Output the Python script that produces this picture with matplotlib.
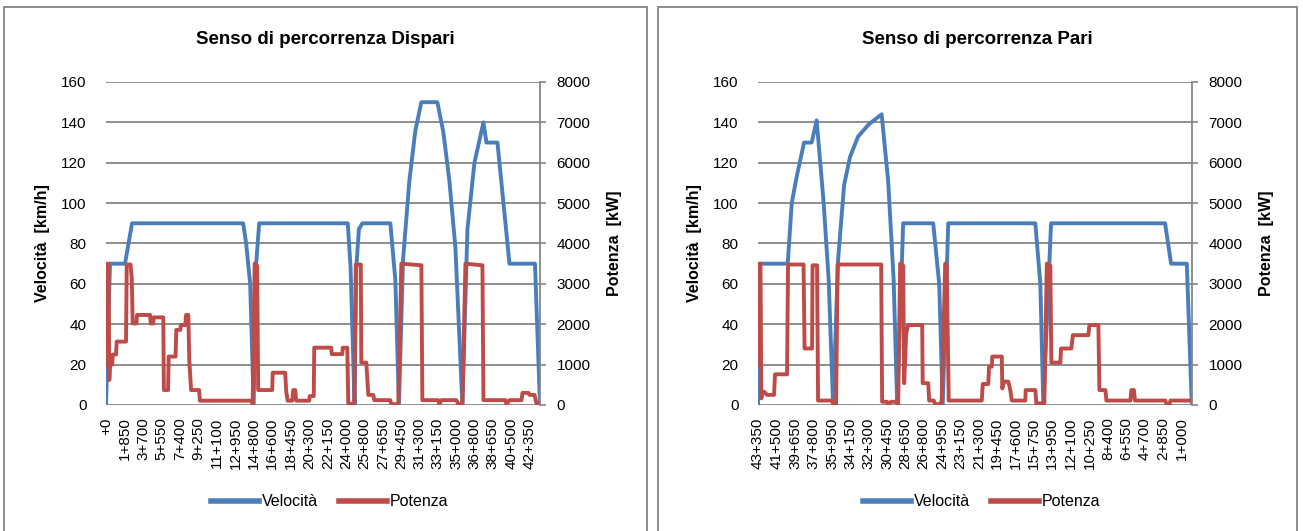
import matplotlib
matplotlib.use("Agg")
import matplotlib.pyplot as plt
from matplotlib.patches import Rectangle
from matplotlib.lines import Line2D

plt.rcParams["font.family"] = ["Liberation Sans", "DejaVu Sans"]

# --- Senso Dispari (distanza percorsa in km) ---
dist_v_dispari = [0.0, 0.4, 1.9, 2.6, 13.7, 14.0, 14.4, 14.75, 15.0, 15.3,
                  24.15, 24.43, 24.66, 24.83, 25.0, 25.26, 25.6,
                  28.4, 28.9, 29.26,
                  29.67, 30.3, 30.9, 31.5, 33.1, 33.7, 34.3, 34.9, 35.6,
                  36.1, 36.8, 37.7, 38.0, 39.1, 39.8, 40.3, 42.85, 43.35]
vel_dispari = [0, 70, 70, 90, 90, 80, 60, 0, 70, 90,
               90, 68, 29, 0, 68, 87, 90,
               90, 62, 0,
               72, 111, 136, 150, 150, 135, 111, 78, 0,
               87, 120, 140, 130, 130, 95, 70, 70, 0]

dist_p_dispari = [0.0, 0.12, 0.25, 0.33, 0.4, 0.62, 0.67, 1.0, 1.07, 2.0,
                  2.07, 2.45, 2.57, 2.67, 3.05, 3.1, 4.4, 4.47, 4.72, 4.76,
                  5.72, 5.78, 6.2, 6.26, 6.95, 7.02, 7.42, 7.48, 7.92, 8.0,
                  8.22, 8.32, 8.5, 9.3, 9.38, 14.5, 14.65, 14.85, 15.1, 15.2,
                  16.6, 16.65, 17.9, 18.0, 18.15, 18.6, 18.7, 18.9, 19.0, 20.3,
                  20.35, 20.75, 20.8, 22.5, 22.55, 23.6, 23.65, 24.1, 24.2, 24.8,
                  24.95, 25.45, 25.5, 26.0, 26.2, 26.7, 26.8, 28.4, 28.5, 29.2,
                  29.5, 31.5, 31.6, 33.2, 33.3, 33.5, 35.0, 35.2, 35.6, 35.9,
                  37.6, 37.7, 39.9, 40.0, 40.3, 41.5, 41.6, 42.2, 42.3, 42.8,
                  43.0, 43.35]
pot_dispari = [1000, 3500, 3500, 620, 1000, 1000, 1250, 1250, 1570, 1570,
               3480, 3480, 3150, 2020, 2020, 2230, 2230, 2020, 2020, 2170,
               2170, 370, 370, 1200, 1200, 1860, 1860, 1980, 1980, 2230,
               2230, 1100, 370, 370, 107, 107, 30, 3500, 3450, 370,
               370, 800, 800, 330, 107, 107, 370, 370, 107, 107,
               220, 220, 1420, 1420, 1260, 1260, 1420, 1420, 30, 30,
               3480, 3480, 1050, 1050, 250, 250, 120, 120, 20, 20,
               3500, 3460, 120, 120, 20, 120, 120, 20, 20, 3500,
               3460, 120, 120, 20, 120, 120, 300, 300, 250, 250,
               40, 40]

# --- Senso Pari (distanza percorsa in km da 43+350) ---
dist_v_pari = [0.0, 0.2, 2.97, 3.37, 3.9, 4.6, 5.36, 5.86, 6.56, 7.06,
               7.5, 8.0, 8.6, 9.2, 10.0, 11.06, 12.35, 13.0, 13.55, 13.9,
               14.5, 17.5, 18.1, 18.45, 19.0, 27.7, 28.2, 28.5, 29.27, 40.66,
               41.26, 42.83, 43.33]
vel_pari = [0, 70, 70, 100, 114, 130, 130, 141, 100, 62,
            0, 72, 109, 123, 133, 139, 144, 111, 62, 0,
            90, 90, 60, 0, 90, 90, 60, 0, 90, 90,
            70, 70, 0]

dist_p_pari = [0.0, 0.12, 0.25, 0.33, 0.45, 0.6, 0.9, 1.6, 1.7, 2.9,
               3.0, 4.55, 4.65, 5.4, 5.45, 5.9, 6.0, 7.4, 7.5, 7.8,
               7.95, 12.3, 12.4, 12.9, 13.0, 13.3, 13.8, 14.0, 14.2, 14.5,
               14.6, 14.8, 15.0, 16.4, 16.45, 17.0, 17.1, 17.55, 17.7, 18.2,
               18.35, 18.7, 18.85, 19.05, 22.35, 22.45, 23.0, 23.08, 23.35, 23.4,
               24.35, 24.4, 24.6, 25.0, 25.2, 25.35, 26.7, 26.74, 27.7, 27.8,
               28.6, 28.85, 29.2, 29.3, 30.2, 30.27, 31.3, 31.45, 33.0, 33.1,
               34.0, 34.1, 34.7, 34.8, 37.2, 37.3, 37.55, 37.65, 40.7, 40.8,
               41.1, 41.2, 43.35]
pot_pari = [1000, 3500, 3500, 165, 330, 330, 250, 250, 760, 760,
            3480, 3480, 1400, 1400, 3460, 3460, 110, 110, 20, 20,
            3480, 3480, 80, 80, 20, 80, 80, 20, 3500, 3450,
            540, 1770, 1980, 1980, 540, 540, 110, 110, 20, 20,
            110, 3500, 3450, 110, 110, 520, 520, 950, 950, 1200,
            1200, 410, 580, 580, 370, 110, 110, 370, 370, 40,
            40, 3500, 3450, 1050, 1050, 1400, 1400, 1730, 1730, 1980,
            1980, 370, 370, 110, 110, 370, 370, 110, 110, 20,
            20, 110, 110]

ticks_dispari = ["+0", "1+850", "3+700", "5+550", "7+400", "9+250", "11+100",
                 "12+950", "14+800", "16+600", "18+450", "20+300", "22+150",
                 "24+000", "25+800", "27+650", "29+450", "31+300", "33+150",
                 "35+000", "36+800", "38+650", "40+500", "42+350"]
ticks_pari = ["43+350", "41+500", "39+650", "37+800", "35+950", "34+150",
              "32+300", "30+450", "28+650", "26+800", "24+950", "23+150",
              "21+300", "19+450", "17+600", "15+750", "13+950", "12+100",
              "10+250", "8+400", "6+550", "4+700", "2+850", "1+000"]

LUNGHEZZA = 43.35
BLU = "#4A7EBB"
ROSSO = "#BE4B48"
GRIGIO = "#868686"


def pk_km(s):
    km, m = s.split("+")
    return (int(km) if km else 0) + int(m) / 1000


fig = plt.figure(figsize=(13.03, 5.31), dpi=100)
W, H = 1303, 531


def pannello(x0, titolo, dv, v, dp, p, labels, pos, box):
    ax = fig.add_axes([x0 / W, 1 - 405 / H, 434 / W, 323 / H])
    ax2 = ax.twinx()
    ax.set_xlim(0, LUNGHEZZA)
    ax.set_ylim(0, 160)
    ax2.set_ylim(0, 8000)
    ax.set_yticks(range(0, 161, 20))
    ax2.set_yticks(range(0, 8001, 1000))
    ax.grid(axis="y", color=GRIGIO, lw=1.3)
    ax.set_axisbelow(True)
    for a in (ax, ax2):
        for s in ("top", "left", "bottom", "right"):
            a.spines[s].set_visible(False)
    ax2.spines["right"].set_visible(True)
    ax2.spines["right"].set_color(GRIGIO)
    ax2.spines["right"].set_linewidth(1.3)
    ax.tick_params(axis="y", length=0, pad=14, labelsize=11)
    ax2.tick_params(axis="y", length=4, width=1.2, color=GRIGIO, pad=8,
                    labelsize=11)
    ax.set_xticks(pos)
    ax.set_xticklabels(labels, rotation=90, fontsize=11)
    ax.tick_params(axis="x", length=0, pad=9)

    ax.plot(dv, v, color=BLU, lw=2.8, solid_joinstyle="round")
    ax2.plot(dp, p, color=ROSSO, lw=2.8, solid_joinstyle="round")

    ax.set_ylabel("Velocità  [km/h]", fontsize=11.5, fontweight="bold")
    ax2.set_ylabel("Potenza  [kW]", fontsize=11.5, fontweight="bold")
    ax.yaxis.set_label_coords(-0.129, 0.5)
    ax2.yaxis.set_label_coords(1.155, 0.5)

    bx0, bx1 = box
    fig.patches.append(Rectangle((bx0 / W, -0.01), (bx1 - bx0) / W, 1 - 7 / H + 0.01,
                                 transform=fig.transFigure, fill=False,
                                 edgecolor="#8C8C8C", lw=1.4))
    cx = (bx0 + bx1) / 2 / W
    fig.text(cx, 1 - 40 / H, titolo, ha="center", va="center",
             fontsize=13.5, fontweight="bold")
    handles = [Line2D([], [], color=BLU, lw=4), Line2D([], [], color=ROSSO, lw=4)]
    fig.legend(handles, ["Velocità", "Potenza"], loc="center",
               bbox_to_anchor=(cx + 4 / W, 1 - 502 / H), ncol=2, frameon=False,
               fontsize=11.5, handlelength=3.0, handletextpad=0.2,
               columnspacing=1.3)


pannello(106, "Senso di percorrenza Dispari", dist_v_dispari, vel_dispari,
         dist_p_dispari, pot_dispari, ticks_dispari,
         [pk_km(t) for t in ticks_dispari], (4, 647))
pannello(758, "Senso di percorrenza Pari", dist_v_pari, vel_pari,
         dist_p_pari, pot_pari, ticks_pari,
         [LUNGHEZZA - pk_km(t) for t in ticks_pari], (658, 1297))

fig.savefig("out.png", dpi=100)
